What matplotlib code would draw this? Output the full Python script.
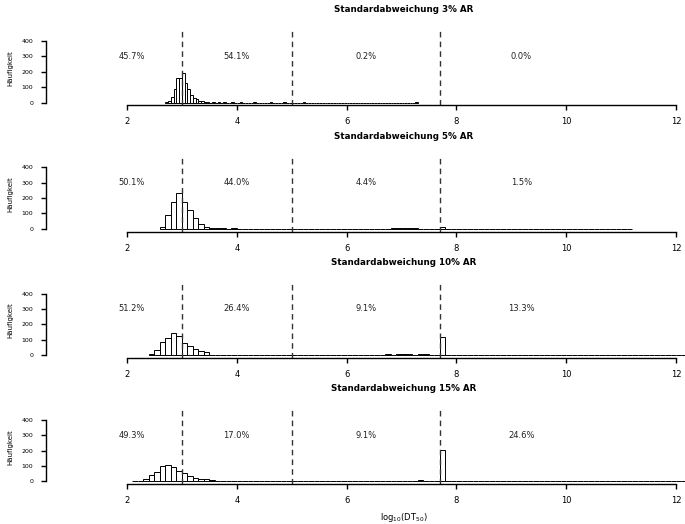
import numpy as np
import matplotlib.pyplot as plt

# Histogram data (bin lefts / counts, 1000 values per panel)
titles = ["Standardabweichung 3% AR", "Standardabweichung 5% AR",
          "Standardabweichung 10% AR", "Standardabweichung 15% AR"]
percents = [["45.7%", "54.1%", "0.2%", "0.0%"],
            ["50.1%", "44.0%", "4.4%", "1.5%"],
            ["51.2%", "26.4%", "9.1%", "13.3%"],
            ["49.3%", "17.0%", "9.1%", "24.6%"]]
bin_width = [0.05, 0.1, 0.1, 0.1]
bin_start = [2.70, 2.6, 2.4, 2.1]
bin_end = [7.30, 11.2, 12.5, 12.5]

# dense part of each histogram, consecutive bins from bin_start
main_1 = [3, 10, 37, 87, 160, 160, 195, 128, 88, 48, 28, 20, 13, 7, 4, 2]
main_2 = [10, 88, 173, 230, 173, 124, 68, 34, 13, 6, 5, 4, 2, 3]
main_3 = [6, 32, 88, 113, 146, 127, 81, 60, 43, 24, 19, 4, 4, 3, 3, 4]
main_4 = [1, 3, 13, 43, 64, 100, 107, 92, 70, 56, 33, 21, 15, 19, 8, 6, 3, 3, 3]

# sparse tail: bin left edges and counts
tail_x_1 = [3.55, 3.65, 3.75, 3.90, 4.05, 4.30, 4.60, 4.85, 5.20, 7.25]
tail_c_1 = [1, 1, 1, 1, 1, 1, 1, 1, 1, 1]
tail_x_2 = [4.1, 4.2, 4.3, 4.5, 4.6, 4.7, 4.8, 4.9,
            5.0, 5.1, 5.2, 5.4, 5.5, 5.7, 5.8, 6.0, 6.1, 6.3, 6.4, 6.5, 6.6,
            6.7, 6.8, 6.9, 7.0, 7.1, 7.2, 7.3, 7.4, 7.5, 7.6, 7.7, 11.1]
tail_c_2 = [1, 1, 1, 1, 1, 1, 1, 1,
            1, 1, 1, 1, 1, 1, 1, 1, 1, 2, 1, 1, 2,
            2, 3, 3, 5, 6, 3, 2, 1, 2, 2, 14, 1]
tail_x_3 = [4.0, 4.1, 4.2, 4.3, 4.4, 4.5, 4.6, 4.7, 4.8, 4.9,
            5.0, 5.1, 5.2, 5.3, 5.4, 5.5, 5.6, 5.7, 5.8, 5.9, 6.0, 6.1, 6.2,
            6.3, 6.4, 6.5, 6.6, 6.7, 6.8, 6.9, 7.0, 7.1, 7.2, 7.3, 7.4, 7.5,
            7.6, 7.7, 8.0, 8.5, 9.0, 9.3, 9.8, 10.2, 10.5, 10.8, 11.0, 11.3,
            11.6, 11.9, 12.1]
tail_c_3 = [4, 2, 2, 2, 2, 2, 1, 2, 1, 1,
            2, 1, 2, 1, 2, 1, 2, 3, 2, 3, 3, 3, 3,
            3, 3, 4, 4, 6, 4, 5, 5, 5, 4, 6, 6, 4,
            4, 118, 1, 1, 1, 1, 1, 1, 1, 2, 1, 1,
            1, 2, 1]
tail_x_4 = [4.0, 4.3, 4.7,
            5.0, 5.1, 5.2, 5.3, 5.4, 5.5, 5.6, 5.7, 5.8, 5.9, 6.0, 6.1, 6.2,
            6.3, 6.4, 6.5, 6.6, 6.7, 6.8, 6.9, 7.0, 7.1, 7.2, 7.3, 7.4, 7.5,
            7.6, 7.7, 7.8, 7.9, 8.0, 8.2, 8.5, 8.8, 9.1, 9.4, 9.7, 10.0, 10.3,
            10.6, 10.7, 10.8, 10.9, 11.0, 11.1, 11.3, 11.5, 11.6, 11.7, 11.8,
            11.9, 12.0, 12.1]
tail_c_4 = [1, 1, 1,
            2, 2, 3, 2, 2, 3, 2, 3, 2, 3, 2, 3, 3,
            3, 3, 3, 3, 3, 5, 5, 5, 5, 3, 12, 3, 3,
            3, 205, 2, 1, 1, 1, 1, 1, 1, 1, 1, 2, 1,
            2, 3, 2, 2, 2, 2, 1, 3, 2, 2, 3,
            1, 1, 2]

mains = [main_1, main_2, main_3, main_4]
tails_x = [tail_x_1, tail_x_2, tail_x_3, tail_x_4]
tails_c = [tail_c_1, tail_c_2, tail_c_3, tail_c_4]

cut_lines = [3, 5, 7.7]
text_x = [2.09, 4.0, 6.35, 9.18]

W, H = 685, 524
fig = plt.figure(figsize=(W / 100, H / 100), dpi=100)

x_left = 2 - (127 - 46) / 54.9
x_right = 2 + (W - 127) / 54.9

for i in range(4):
    top = 30.5 + 126.3 * i
    bot = 105.3 + 126.3 * i
    ax = fig.add_axes([46 / W, 1 - bot / H, (W - 46) / W, (bot - top) / H])

    w = bin_width[i]
    n = int(round((bin_end[i] - bin_start[i]) / w))
    counts = np.zeros(n)
    counts[:len(mains[i])] = mains[i]
    for xl, c in zip(tails_x[i], tails_c[i]):
        counts[int(round((xl - bin_start[i]) / w))] += c
    lefts = bin_start[i] + w * np.arange(n)
    ax.bar(lefts, counts, width=w, align='edge', color='white',
           edgecolor='black', linewidth=0.7)

    for c in cut_lines:
        ax.axvline(c, color='#333333', lw=1.0, linestyle=(0, (4, 3)))
    for tx, t in zip(text_x, percents[i]):
        ax.text(tx, 300, t, ha='center', va='center', fontsize=6, color='#222222')

    ax.set_xlim(x_left, x_right)
    ax.set_ylim(-18, 468)
    for s in ['top', 'right']:
        ax.spines[s].set_visible(False)
    ax.spines['bottom'].set_bounds(2, 12)
    ax.spines['left'].set_bounds(0, 400)
    ax.spines['bottom'].set_linewidth(1.0)
    ax.spines['left'].set_linewidth(1.0)
    ax.set_xticks([2, 4, 6, 8, 10, 12])
    ax.set_yticks([0, 100, 200, 300, 400])
    ax.tick_params(axis='x', length=3.6, width=1.0, labelsize=6, pad=5)
    ax.tick_params(axis='y', length=3.6, width=1.0, labelsize=4.5, pad=5.5)
    ax.set_ylabel("Häufigkeit", fontsize=5)
    ax.yaxis.set_label_coords((13 - 46) / (W - 46), 0.5)

    fig.text(404 / W, 1 - (10 + 126.3 * i) / H, titles[i], ha='center',
             va='center', fontsize=6.3, fontweight='bold')

fig.text(404 / W, 1 - 517 / H, 'log$_{10}$(DT$_{50}$)', ha='center',
         va='center', fontsize=6)

fig.savefig('out.png', dpi=100)
